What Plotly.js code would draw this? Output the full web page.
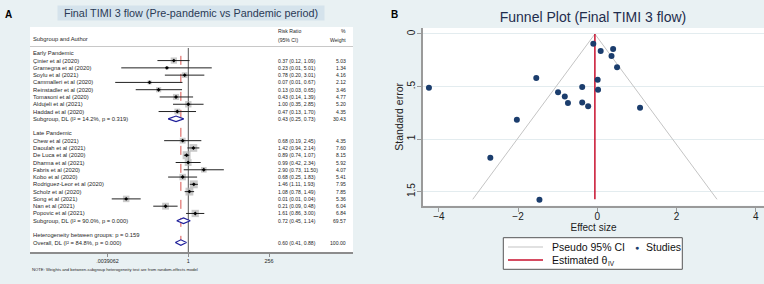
<!DOCTYPE html>
<html><head><meta charset="utf-8">
<script src="https://cdn.plot.ly/plotly-3.0.1.min.js"></script>
<style>html,body{margin:0;padding:0;background:#e9f1f3;}#chart{width:764px;height:284px;}</style>
</head><body><div id="chart"></div>
<script>
// ---------------- DATA ----------------
const earlyStudies = ["Çinier et al (2020)","Gramegna et al (2020)","Soylu et al (2021)","Cammalleri et al (2020)","Reinstadler et al (2020)","Tomasoni et al (2020)","Aldujeli et al (2021)","Haddad et al (2020)"];
const earlyRR = [0.37,0.23,0.78,0.07,0.13,0.43,1.00,0.47];
const earlyLo = [0.12,0.01,0.20,0.0066,0.027,0.14,0.35,0.13];
const earlyHi = [1.09,5.01,3.01,0.67,0.65,1.39,2.85,1.70];
const earlyW  = [5.03,1.34,4.16,2.12,3.46,4.77,5.20,4.35];
const earlySub = {label:"Subgroup, DL (I² = 14.2%, p = 0.319)", rr:0.43, lo:0.25, hi:0.73, w:30.43};

const lateStudies = ["Chew et al (2021)","Daoulah et al (2021)","De Luca et al (2020)","Dharma et al (2021)","Fabris et al (2020)","Kobo et al (2020)","Rodriguez-Leor et al (2020)","Scholz et al (2020)","Song et al (2021)","Nan et al (2021)","Popovic et al (2021)"];
const lateRR = [0.68,1.42,0.89,0.99,2.90,0.68,1.46,1.08,0.014,0.21,1.61];
const lateLo = [0.19,0.94,0.74,0.42,0.73,0.25,1.11,0.78,0.0052,0.09,0.86];
const lateHi = [2.45,2.14,1.07,2.34,11.50,1.83,1.93,1.49,0.038,0.48,3.00];
const lateW  = [4.35,7.60,8.15,5.92,4.07,5.41,7.95,7.85,5.36,6.04,6.84];
const lateSub = {label:"Subgroup, DL (I² = 90.0%, p = 0.000)", rr:0.72, lo:0.45, hi:1.14, w:69.57};

const overall = {label:"Overall, DL (I² = 84.8%, p = 0.000)", rr:0.60, lo:0.41, hi:0.88, w:100.00};
const heterogeneityText = "Heterogeneity between groups: p = 0.159";
const groupLabels = ["Early Pandemic","Late Pandemic"];
const forestTickVals = [0.00390625, 1, 256];
const forestTickText = [".0039062","1","256"];

// Funnel plot (effect size = ln RR, standard error), one point per study
const funnelES = [-0.99,-1.46,-0.23,-2.70,-2.03,-0.82,0.02,-0.74,-0.38,0.36,-0.10,0.01,1.08,-0.38,0.40,0.086,-4.25,-1.54,0.50];
const funnelSE = [0.555,1.577,0.688,1.177,0.815,0.596,0.53,0.657,0.653,0.209,0.092,0.435,0.701,0.504,0.143,0.162,0.511,0.419,0.317];
const funnelTheta = -0.06;
const funnelSEmax = 1.573;
const funnelXTicks = [-4,-2,0,2,4];
const funnelYTicks = [0,0.5,1,1.5];
const funnelYTickText = ["0",".5","1","1.5"];

// ---------------- LAYOUT HELPERS ----------------
const W=764, H=284;
const X = p => p/W, Y = p => 1 - p/H;
const SANS = '"Liberation Sans",Arial,Helvetica,sans-serif';
const TXT = '#262626';
const f2 = v => v.toFixed(2);

// row layout (index units)
const rows = [];
let idx = 0;
const addGroup = (label, names, rr, lo, hi, w, sub) => {
  rows.push({type:'head', label, idx: idx++});
  names.forEach((n,i)=>rows.push({type:'study', label:n, rr:rr[i], lo:lo[i], hi:hi[i], w:w[i], idx: idx++}));
  rows.push({type:'sub', label:sub.label, rr:sub.rr, lo:sub.lo, hi:sub.hi, w:sub.w, idx: idx++});
  idx++; // blank row
};
addGroup(groupLabels[0], earlyStudies, earlyRR, earlyLo, earlyHi, earlyW, earlySub);
addGroup(groupLabels[1], lateStudies, lateRR, lateLo, lateHi, lateW, lateSub);
rows.push({type:'het', label:heterogeneityText, idx: idx++});
rows.push({type:'sub', label:overall.label, rr:overall.rr, lo:overall.lo, hi:overall.hi, w:overall.w, idx: idx++});
const lastIdx = idx - 1;

// pixel geometry of the forest panel
const ROW0 = 53.3, ROWH = 7.28;
const rowOfPx = p => (p - ROW0)/ROWH;
const PX_ONE = 188.3, PX_PER_LOG2 = 10.09;
const FL = 30, FR = 353, FT = 27, FB = 252;
const log10OfPx = p => ((p - PX_ONE)/PX_PER_LOG2) * Math.log10(2);

const studies = rows.filter(r=>r.type==='study');
const diamonds = rows.filter(r=>r.type==='sub');

const traces = [];
traces.push({x:[overall.rr, overall.rr], y:[0.35, lastIdx+0.1], mode:'lines', line:{color:'#d9534f', dash:'dash', width:1}, xaxis:'x', yaxis:'y', hoverinfo:'skip', showlegend:false});
traces.push({x:[1,1], y:[rowOfPx(48), rowOfPx(FB)], mode:'lines', line:{color:'#555555', width:1}, xaxis:'x', yaxis:'y', hoverinfo:'skip', showlegend:false});
traces.push({x:studies.map(s=>s.rr), y:studies.map(s=>s.idx), mode:'markers', marker:{symbol:'square', size:studies.map(s=>2.8*Math.sqrt(s.w)), color:'#b3b3b3', line:{width:0}}, xaxis:'x', yaxis:'y', showlegend:false, hoverinfo:'skip'});
const ciX=[], ciY=[];
studies.forEach(s=>{ciX.push(s.lo,s.hi,null); ciY.push(s.idx,s.idx,null);});
traces.push({x:ciX, y:ciY, mode:'lines', line:{color:'#222222', width:1}, xaxis:'x', yaxis:'y', showlegend:false, hoverinfo:'skip'});
traces.push({x:studies.map(s=>s.rr), y:studies.map(s=>s.idx), mode:'markers', marker:{symbol:'diamond', size:3, color:'#000000'}, xaxis:'x', yaxis:'y', showlegend:false});
diamonds.forEach(d=>{
  traces.push({x:[d.lo,d.rr,d.hi,d.rr,d.lo], y:[d.idx,d.idx-0.38,d.idx,d.idx+0.38,d.idx], mode:'lines', fill:'toself', fillcolor:'#ffffff', line:{color:'#1f1f9a', width:1.2}, xaxis:'x', yaxis:'y', showlegend:false, hoverinfo:'skip'});
});

// funnel
traces.push({x:[funnelTheta-1.96*funnelSEmax, funnelTheta, funnelTheta+1.96*funnelSEmax], y:[funnelSEmax,0,funnelSEmax], mode:'lines', line:{color:'#c4c4c4', width:1}, xaxis:'x2', yaxis:'y2', name:'Pseudo 95% CI', showlegend:false});
traces.push({x:[funnelTheta, funnelTheta], y:[0, funnelSEmax], mode:'lines', line:{color:'#c8102e', width:1.5}, xaxis:'x2', yaxis:'y2', name:'Estimated θIV', showlegend:false});
traces.push({x:funnelES, y:funnelSE, mode:'markers', marker:{size:6, color:'#1b3d6d'}, xaxis:'x2', yaxis:'y2', name:'Studies', showlegend:false});

// annotations
const ann = [];
const fText = (text, xpx, yIdx, anchor, size) => ({text, xref:'paper', yref:'y', x:X(xpx), y:yIdx, xanchor:anchor, yanchor:'middle', showarrow:false, font:{family:SANS, size:size, color:TXT}});
const LBL = 5.8, NUM = 5.1;
rows.forEach(r=>{
  ann.push(fText(r.label, 31, r.idx, 'left', LBL));
  if(r.type==='study' || r.type==='sub'){
    ann.push(fText(`${f2(r.rr)} (${f2(r.lo)}, ${f2(r.hi)})`, 276, r.idx, 'left', NUM));
    ann.push(fText(f2(r.w), 348, r.idx, 'right', NUM));
  }
});
ann.push(fText('Subgroup and Author', 31, rowOfPx(39), 'left', LBL));
ann.push(fText('Risk Ratio', 276, rowOfPx(31), 'left', NUM));
ann.push(fText('(95% CI)', 276, rowOfPx(40), 'left', NUM));
ann.push(fText('%', 348, rowOfPx(31), 'right', NUM));
ann.push(fText('Weight', 348, rowOfPx(40), 'right', NUM));
const pText = (text, xpx, ypx, anchor, size, color, extra) => Object.assign({text, xref:'paper', yref:'paper', x:X(xpx), y:Y(ypx), xanchor:anchor, yanchor:'middle', showarrow:false, font:{family:SANS, size:size, color:color}}, extra||{});
ann.push(pText('A', 3, 14, 'left', 10, '#000', {font:{family:SANS, size:10, color:'#000', weight:'bold'}}));
ann.push(pText('B', 389, 14, 'left', 10, '#000', {font:{family:SANS, size:10, color:'#000', weight:'bold'}}));
ann.push(pText('Final TIMI 3 flow (Pre-pandemic vs Pandemic period)', 190.5, 13.5, 'center', 10.8, '#2b3a55', {width:266, height:14, borderpad:0, bgcolor:'#d5e3ec'}));
ann.push(pText('NOTE: Weights and between-subgroup heterogeneity test are from random-effects model', 30, 269, 'left', 4.2, TXT));
// funnel legend (manual)
ann.push(pText('Pseudo 95% CI', 550, 247, 'left', 10.5, '#111'));
ann.push(pText('Studies', 644, 247, 'left', 10.5, '#111'));
ann.push(pText('●', 636.7, 247, 'center', 7, '#1b3d6d'));
ann.push(pText('Estimated θ', 550, 260, 'left', 10.5, '#111'));
ann.push(pText('IV', 606, 263, 'left', 6.5, '#111'));

const shapes = [
  {type:'line', xref:'paper', yref:'paper', x0:X(FL), x1:X(FR), y0:Y(46.5), y1:Y(46.5), line:{color:'#c8c8c8', width:1}},
  {type:'rect', xref:'paper', yref:'paper', x0:X(503.3), x1:X(682.3), y0:Y(237.7), y1:Y(269.3), line:{color:'#555', width:1}, fillcolor:'#ffffff'},
  {type:'line', xref:'paper', yref:'paper', x0:X(508), x1:X(543), y0:Y(247), y1:Y(247), line:{color:'#c4c4c4', width:1.2}},
  {type:'line', xref:'paper', yref:'paper', x0:X(508), x1:X(543), y0:Y(260), y1:Y(260), line:{color:'#c8102e', width:1.5}}
];

const layout = {
  width:W, height:H, margin:{l:0,r:0,t:0,b:0},
  paper_bgcolor:'#e9f1f3', plot_bgcolor:'#ffffff',
  showlegend:false,
  title:{text:'Funnel Plot (Final TIMI 3 flow)', x:X(593), xref:'paper', xanchor:'center', y:Y(17), yref:'paper', yanchor:'middle', font:{family:SANS, size:14, color:'#1f2d4d'}},
  xaxis:{domain:[X(FL),X(FR)], anchor:'y', type:'log', range:[log10OfPx(FL), log10OfPx(FR)], tickvals:forestTickVals, ticktext:forestTickText,
    showline:true, linecolor:'#8c8c8c', linewidth:1.5, ticks:'outside', ticklen:3, tickcolor:'#8c8c8c', showgrid:false, zeroline:false,
    tickfont:{family:SANS, size:5.4, color:TXT}, fixedrange:true},
  yaxis:{domain:[Y(FB),Y(FT)], anchor:'x', range:[rowOfPx(FB), rowOfPx(FT)], visible:false, fixedrange:true},
  xaxis2:{domain:[X(423),1], anchor:'y2', range:[-4.40,4.21], tickvals:funnelXTicks, showline:true, linecolor:'#9a9a9a', linewidth:2,
    ticks:'outside', ticklen:4, tickcolor:'#9a9a9a', ticklabelstandoff:-4, showgrid:false, zeroline:false, tickfont:{family:SANS, size:10, color:'#222'},
    title:{text:'Effect size', font:{family:SANS, size:10, color:'#222'}, standoff:0}},
  yaxis2:{domain:[Y(205.7),Y(28)], anchor:'x2', range:[1.634,-0.057], tickvals:funnelYTicks, ticktext:funnelYTickText, tickangle:-90,
    showgrid:true, gridcolor:'#e3ecef', showline:true, linecolor:'#9a9a9a', linewidth:2, ticks:'outside', ticklen:4, tickcolor:'#9a9a9a', ticklabelstandoff:-2,
    zeroline:false, tickfont:{family:SANS, size:10, color:'#222'},
    title:{text:'Standard error', font:{family:SANS, size:10.5, color:'#222'}, standoff:0}},
  annotations:ann, shapes:shapes
};
Plotly.newPlot('chart', traces, layout, {displayModeBar:false, staticPlot:true});
</script></body></html>
